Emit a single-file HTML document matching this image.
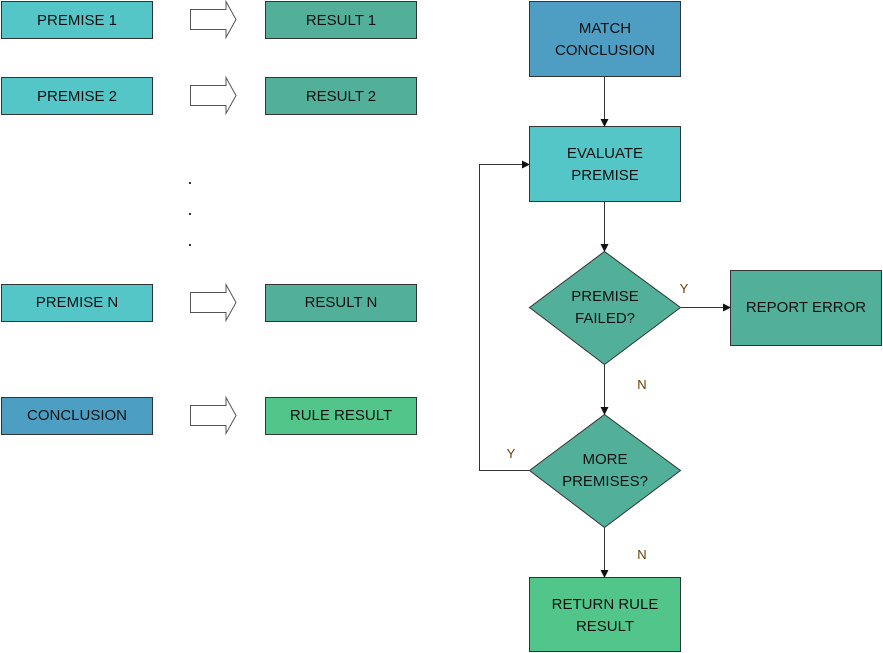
<!DOCTYPE html>
<html><head><meta charset="utf-8"><style>
html,body{margin:0;padding:0;background:#fff;}
svg{display:block;}
text{font-family:"Liberation Sans",sans-serif;font-size:15px;fill:#111;text-anchor:middle;}
.l{fill:#6a3e00;font-size:13px;}
</style></head><body>
<svg width="883" height="653" viewBox="0 0 883 653" xmlns="http://www.w3.org/2000/svg">
<defs>
<marker id="a" markerWidth="8" markerHeight="8" refX="7" refY="4" orient="auto" markerUnits="userSpaceOnUse">
<path d="M0,0 L8,4 L0,8 Z" fill="#111"/></marker>
<g id="ar"><path d="M190.5,9.5 H226 V1.5 L236,19.5 L226,37.5 V29.5 H190.5 Z" fill="#fff" stroke="#555" stroke-width="1"/></g>
</defs>
<g stroke="#333" stroke-width="1">
<rect x="1.5" y="1.5" width="151" height="37" fill="#54C6C8"/>
<rect x="1.5" y="77.5" width="151" height="37" fill="#54C6C8"/>
<rect x="1.5" y="284.5" width="151" height="37" fill="#54C6C8"/>
<rect x="1.5" y="397.5" width="151" height="37" fill="#4C9EC2"/>
<rect x="265.5" y="1.5" width="151" height="37" fill="#52B09A"/>
<rect x="265.5" y="77.5" width="151" height="37" fill="#52B09A"/>
<rect x="265.5" y="284.5" width="151" height="37" fill="#52B09A"/>
<rect x="265.5" y="397.5" width="151" height="37" fill="#52C68A"/>
<rect x="529.5" y="1.5" width="151" height="75" fill="#4E9DC2"/>
<rect x="529.5" y="126.5" width="151" height="75" fill="#54C6C8"/>
<polygon points="604.5,251.5 680.5,307.5 604.5,364.5 529.5,307.5" fill="#52B09A"/>
<rect x="730.5" y="270.5" width="151" height="75" fill="#52B09A"/>
<polygon points="604.5,414.5 680.5,470.5 604.5,527.5 529.5,470.5" fill="#52B09A"/>
<rect x="529.5" y="577.5" width="151" height="74" fill="#52C68A"/>
</g>
<use href="#ar"/>
<use href="#ar" y="76"/>
<use href="#ar" y="283"/>
<use href="#ar" y="396"/>
<rect x="189" y="182" width="2" height="2" fill="#333"/>
<rect x="189" y="213" width="2" height="2" fill="#333"/>
<rect x="189" y="244" width="2" height="2" fill="#333"/>
<g stroke="#333" stroke-width="1" fill="none">
<line x1="604.5" y1="77" x2="604.5" y2="126" marker-end="url(#a)"/>
<line x1="604.5" y1="202" x2="604.5" y2="251" marker-end="url(#a)"/>
<line x1="681" y1="307.5" x2="730" y2="307.5" marker-end="url(#a)"/>
<line x1="604.5" y1="365" x2="604.5" y2="414" marker-end="url(#a)"/>
<line x1="604.5" y1="528" x2="604.5" y2="577" marker-end="url(#a)"/>
<polyline points="529,470.5 479.5,470.5 479.5,164.5 529,164.5" marker-end="url(#a)"/>
</g>
<text x="77" y="25">PREMISE 1</text>
<text x="77" y="101">PREMISE 2</text>
<text x="77" y="307">PREMISE N</text>
<text x="77" y="420">CONCLUSION</text>
<text x="341" y="25">RESULT 1</text>
<text x="341" y="101">RESULT 2</text>
<text x="341" y="307">RESULT N</text>
<text x="341" y="420">RULE RESULT</text>
<text x="605" y="33">MATCH</text>
<text x="605" y="55">CONCLUSION</text>
<text x="605" y="158">EVALUATE</text>
<text x="605" y="180">PREMISE</text>
<text x="605" y="301">PREMISE</text>
<text x="605" y="323">FAILED?</text>
<text x="806" y="312">REPORT ERROR</text>
<text x="605" y="464">MORE</text>
<text x="605" y="486">PREMISES?</text>
<text x="605" y="609">RETURN RULE</text>
<text x="605" y="631">RESULT</text>
<text class="l" x="684" y="293">Y</text>
<text class="l" x="642" y="389">N</text>
<text class="l" x="511" y="458">Y</text>
<text class="l" x="642" y="559">N</text>
</svg>
</body></html>
